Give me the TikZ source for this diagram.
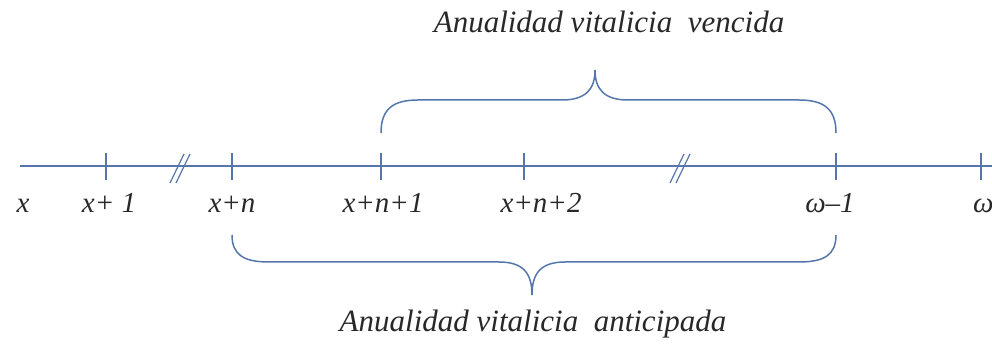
\documentclass[tikz,border=0pt]{standalone}
\usepackage{fontspec}
\setmainfont{Liberation Serif}
\definecolor{axisblue}{RGB}{84,118,171}
\definecolor{txt}{RGB}{40,40,40}
\begin{document}
\begin{tikzpicture}[x=1pt,y=1pt,
  axis/.style={draw=axisblue,line width=1.4pt},
  tick/.style={draw=axisblue,line width=1.4pt},
  brk/.style={draw=axisblue,line width=1.2pt},
  brace/.style={draw=axisblue,line width=1.5pt},
  lbl/.style={anchor=base,text=txt,inner sep=0pt,font=\fontsize{29}{30}\selectfont\itshape},
  ttl/.style={anchor=base,text=txt,inner sep=0pt,font=\fontsize{31}{33}\selectfont\itshape}]
\useasboundingbox (0,0) rectangle (992,347);
% axis
\coordinate (L) at (20,181);
\coordinate (R) at (992,181);
\draw[axis] (L) -- (R);
% ticks
\foreach \n/\x in {t1/106,tn/232,tn1/381,tn2/524,tw1/836,tw/981}{
  \coordinate (\n) at (\x,181);
  \draw[tick] ([yshift=13pt]\n) -- ([yshift=-14pt]\n);
}
% break marks
\foreach \n/\x in {b1/180,b2/680}{
  \coordinate (\n) at (\x,178);
  \draw[brk] ([shift={(-10,-14)}]\n) -- ([shift={(4,15)}]\n);
  \draw[brk] ([shift={(-4,-14)}]\n) -- ([shift={(10,15)}]\n);
}
% labels
\node[lbl] (lx)   at (23,134)  {x};
\node[lbl] (lx1)  at (109,134) {x+ 1};
\node[lbl] (lxn)  at (232,134) {x+n};
\node[lbl] (lxn1) at (383,134) {x+n+1};
\node[lbl] (lxn2) at (541,134) {x+n+2};
\node[lbl] (lw1)  at (830,134) {ω–1};
\node[lbl,anchor=base west] (lw) at (973,134) {ω};
% top brace
\coordinate (ta) at (381,214);
\coordinate (tb) at (836,214);
\coordinate (tt) at (595,277);
\draw[brace] (ta) .. controls (381,238) and (393,247) .. (418,247)
  -- (562,247) .. controls (586,247) and (595,258) .. (tt)
  .. controls (595,258) and (604,247) .. (628,247)
  -- (799,247) .. controls (824,247) and (836,238) .. (tb);
% bottom brace
\coordinate (ba) at (232,112);
\coordinate (bb) at (836,112);
\coordinate (bt) at (532,52);
\draw[brace] (ba) .. controls (232,92) and (244,85) .. (269,85)
  -- (499,85) .. controls (523,85) and (532,74) .. (bt)
  .. controls (532,74) and (541,85) .. (565,85)
  -- (799,85) .. controls (824,85) and (836,92) .. (bb);
% titles
\node[ttl] (top) at (609,314) {Anualidad vitalicia\ \ vencida};
\node[ttl] (bot) at (533,15) {Anualidad vitalicia\ \ anticipada};
\end{tikzpicture}
\end{document}
